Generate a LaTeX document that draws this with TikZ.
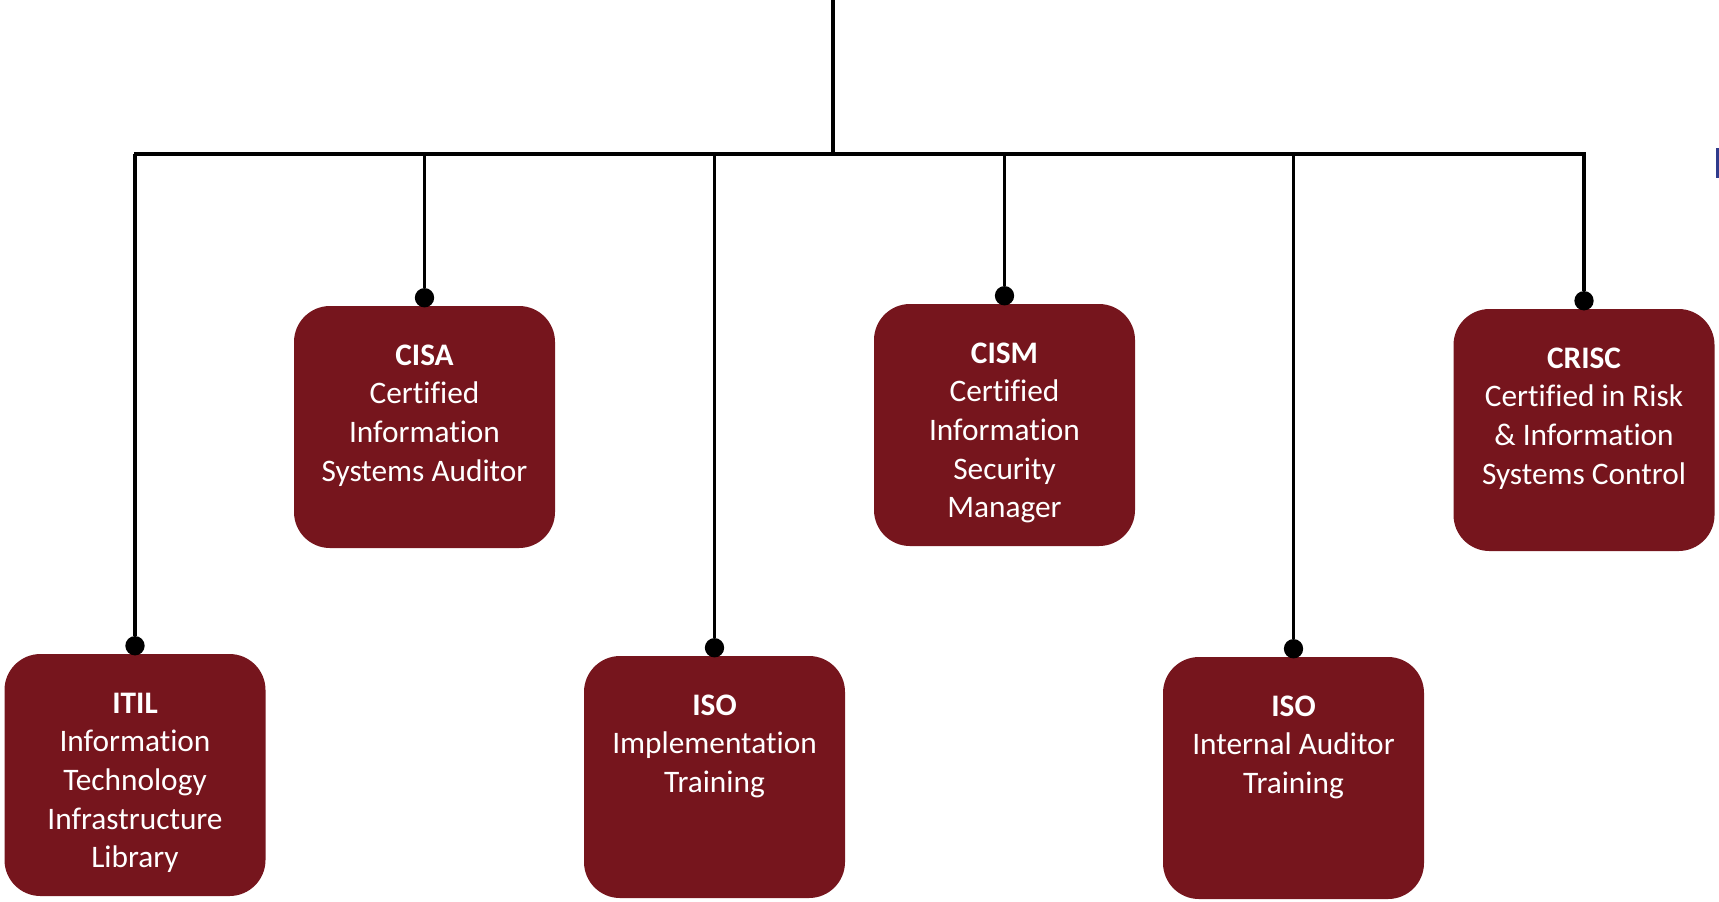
\documentclass[tikz,border=0pt]{standalone}
\usepackage{fontspec}
\setmainfont{Carlito}[Ligatures=NoCommon]
\usetikzlibrary{positioning}
\definecolor{certred}{HTML}{76151D}
\definecolor{edgeblue}{HTML}{2F3B8C}
\tikzset{
  cert/.style={fill=certred, rounded corners=27pt, minimum width=195.75pt, minimum height=181.5pt, inner sep=0pt},
  certtext/.style={text=white, align=center, inner sep=0pt, font=\fontsize{23.5}{29}\selectfont},
  joint/.style={circle, fill=black, inner sep=0pt, minimum size=14.5pt},
  wire/.style={black, line width=2.3pt}
}

\begin{document}
\begin{tikzpicture}[x=0.75pt, y=-0.75pt]
  \useasboundingbox (0,0) rectangle (1719,901);
  \coordinate (top) at (833,0);
  \coordinate (hub) at (833,154);
  \coordinate (barleft) at (134,154);
  \coordinate (barright) at (1586,154);
  \draw[wire] (top) -- (hub);
  \draw[wire] (barleft) -- (barright);
  \foreach \name/\x/\y/\head/\body in {itil/135/775/ITIL/{Information\\Technology\\Infrastructure\\Library},
      cisa/424.5/427/CISA/{Certified\\Information\\Systems Auditor},
      isoimpl/714.5/777/ISO/{Implementation\\Training},
      cism/1004.5/425/CISM/{Certified\\Information\\Security\\Manager},
      isoaudit/1293.5/778/ISO/{Internal Auditor\\Training},
      crisc/1584/430/CRISC/{Certified in Risk\\\& Information\\Systems Control}} {
    \node[cert] (\name) at (\x,\y) {};
    \node[certtext, below=29pt of \name.north] (\name text) {\textbf{\head}\\\body};
    \node[joint] (\name dot) at ([yshift=6pt]\name.north) {};
    \draw[wire] (\name dot |- hub) -- (\name dot);
  }
  \draw[edgeblue, line width=2.25pt] (1717.5,148) -- (1717.5,178);
\end{tikzpicture}
\end{document}
